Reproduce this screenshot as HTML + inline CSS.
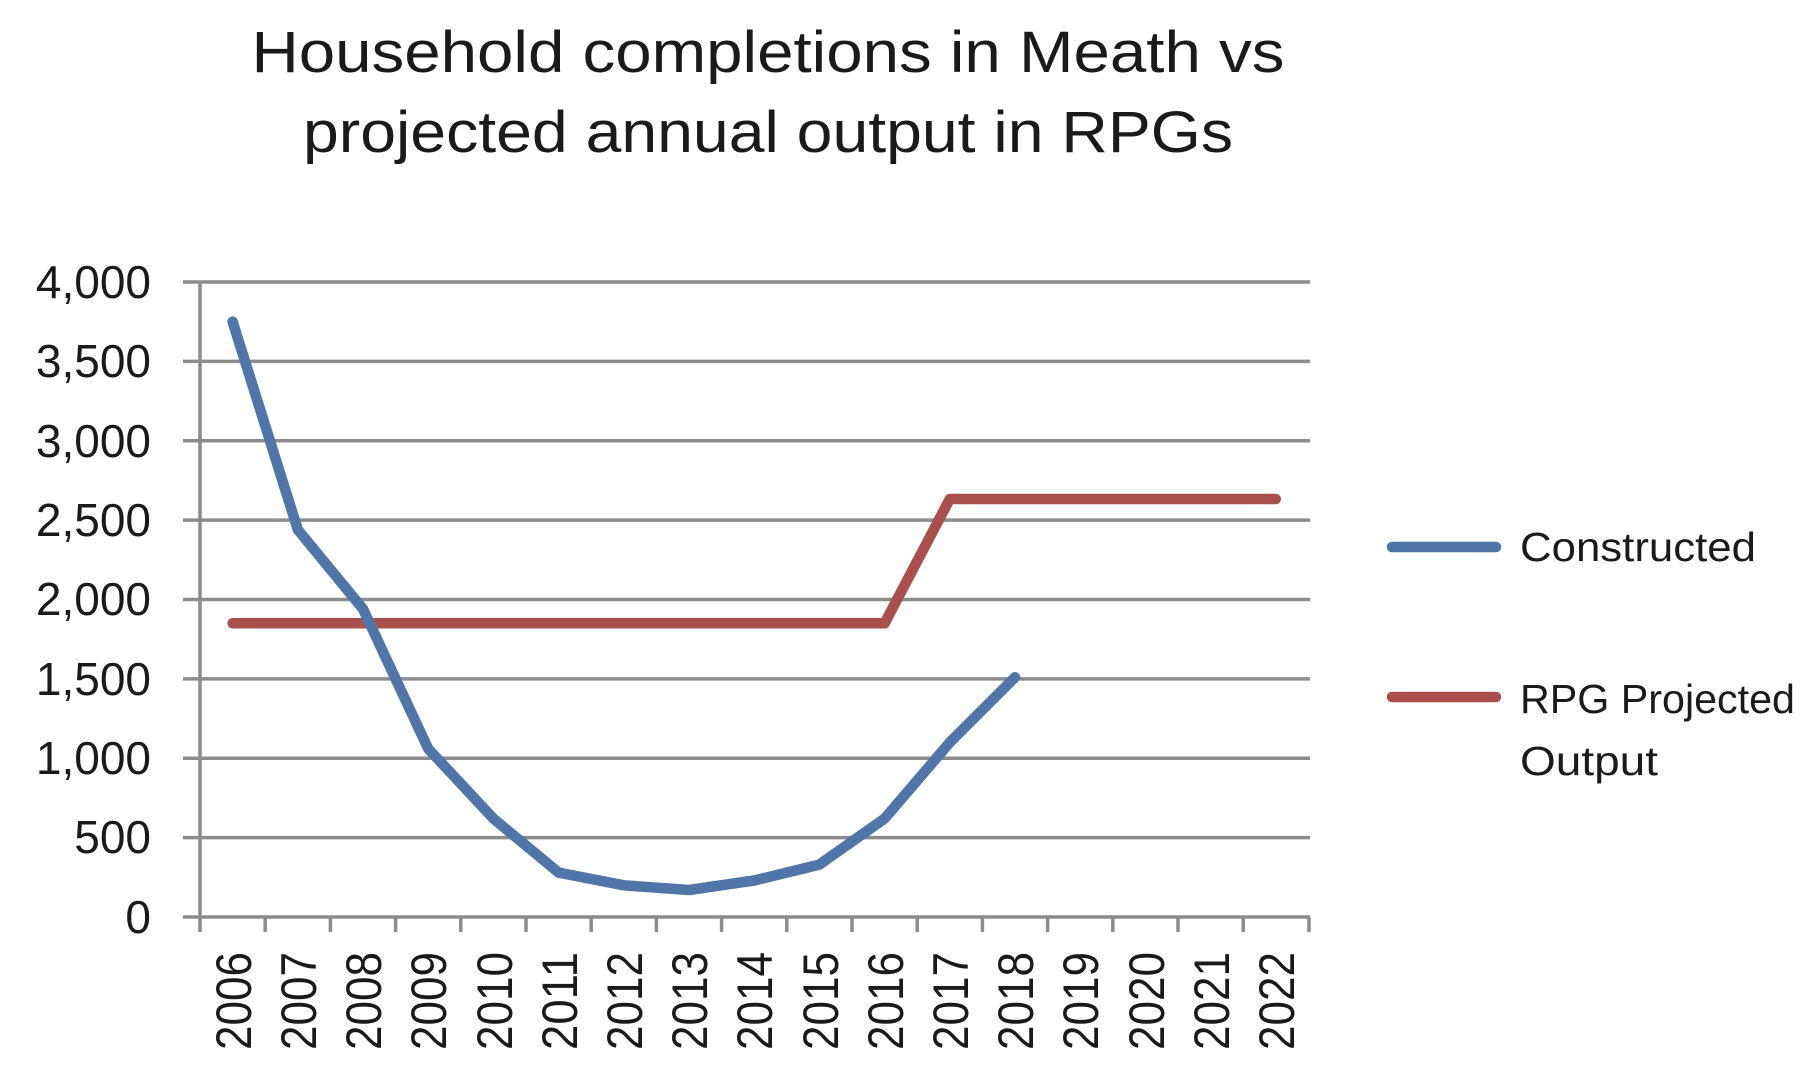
<!DOCTYPE html>
<html><head><meta charset="utf-8"><style>html,body{margin:0;padding:0;background:#fff}svg{display:block}</style></head>
<body>
<svg width="1816" height="1086" viewBox="0 0 1816 1086" xmlns="http://www.w3.org/2000/svg" font-family="'Liberation Sans', sans-serif" fill="#1a1a1a">
<rect width="1816" height="1086" fill="#fff"/>
<text x="768" y="72" font-size="58" text-anchor="middle" textLength="1033" lengthAdjust="spacingAndGlyphs">Household completions in Meath vs</text>
<text x="768" y="152" font-size="58" text-anchor="middle" textLength="930" lengthAdjust="spacingAndGlyphs">projected annual output in RPGs</text>
<g stroke="#8c8c8c" stroke-width="3.5">
<line x1="183" y1="282" x2="1310" y2="282"/>
<line x1="183" y1="361.4" x2="1310" y2="361.4"/>
<line x1="183" y1="440.8" x2="1310" y2="440.8"/>
<line x1="183" y1="520.1" x2="1310" y2="520.1"/>
<line x1="183" y1="599.5" x2="1310" y2="599.5"/>
<line x1="183" y1="678.9" x2="1310" y2="678.9"/>
<line x1="183" y1="758.3" x2="1310" y2="758.3"/>
<line x1="183" y1="837.6" x2="1310" y2="837.6"/>
<line x1="183" y1="917" x2="1310" y2="917"/>
<line x1="200" y1="282" x2="200" y2="932"/>
<line x1="265.2" y1="917" x2="265.2" y2="932"/><line x1="330.4" y1="917" x2="330.4" y2="932"/><line x1="395.6" y1="917" x2="395.6" y2="932"/><line x1="460.8" y1="917" x2="460.8" y2="932"/><line x1="526" y1="917" x2="526" y2="932"/><line x1="591.2" y1="917" x2="591.2" y2="932"/><line x1="656.4" y1="917" x2="656.4" y2="932"/><line x1="721.6" y1="917" x2="721.6" y2="932"/><line x1="786.8" y1="917" x2="786.8" y2="932"/><line x1="852" y1="917" x2="852" y2="932"/><line x1="917.2" y1="917" x2="917.2" y2="932"/><line x1="982.4" y1="917" x2="982.4" y2="932"/><line x1="1047.6" y1="917" x2="1047.6" y2="932"/><line x1="1112.8" y1="917" x2="1112.8" y2="932"/><line x1="1178" y1="917" x2="1178" y2="932"/><line x1="1243.2" y1="917" x2="1243.2" y2="932"/><line x1="1309" y1="917" x2="1309" y2="932"/>
</g>
<g font-size="46" text-anchor="end">
<text x="151" y="298">4,000</text>
<text x="151" y="377">3,500</text>
<text x="151" y="457">3,000</text>
<text x="151" y="536">2,500</text>
<text x="151" y="615">2,000</text>
<text x="151" y="695">1,500</text>
<text x="151" y="774">1,000</text>
<text x="151" y="853">500</text>
<text x="151" y="933">0</text>
</g>
<g font-size="50">
<text transform="translate(251,1050) rotate(-90)" textLength="98" lengthAdjust="spacingAndGlyphs">2006</text>
<text transform="translate(316,1050) rotate(-90)" textLength="98" lengthAdjust="spacingAndGlyphs">2007</text>
<text transform="translate(381,1050) rotate(-90)" textLength="98" lengthAdjust="spacingAndGlyphs">2008</text>
<text transform="translate(446,1050) rotate(-90)" textLength="98" lengthAdjust="spacingAndGlyphs">2009</text>
<text transform="translate(512,1050) rotate(-90)" textLength="98" lengthAdjust="spacingAndGlyphs">2010</text>
<text transform="translate(577,1050) rotate(-90)" textLength="98" lengthAdjust="spacingAndGlyphs">2011</text>
<text transform="translate(642,1050) rotate(-90)" textLength="98" lengthAdjust="spacingAndGlyphs">2012</text>
<text transform="translate(707,1050) rotate(-90)" textLength="98" lengthAdjust="spacingAndGlyphs">2013</text>
<text transform="translate(772,1050) rotate(-90)" textLength="98" lengthAdjust="spacingAndGlyphs">2014</text>
<text transform="translate(838,1050) rotate(-90)" textLength="98" lengthAdjust="spacingAndGlyphs">2015</text>
<text transform="translate(903,1050) rotate(-90)" textLength="98" lengthAdjust="spacingAndGlyphs">2016</text>
<text transform="translate(968,1050) rotate(-90)" textLength="98" lengthAdjust="spacingAndGlyphs">2017</text>
<text transform="translate(1033,1050) rotate(-90)" textLength="98" lengthAdjust="spacingAndGlyphs">2018</text>
<text transform="translate(1098,1050) rotate(-90)" textLength="98" lengthAdjust="spacingAndGlyphs">2019</text>
<text transform="translate(1164,1050) rotate(-90)" textLength="98" lengthAdjust="spacingAndGlyphs">2020</text>
<text transform="translate(1229,1050) rotate(-90)" textLength="98" lengthAdjust="spacingAndGlyphs">2021</text>
<text transform="translate(1294,1050) rotate(-90)" textLength="98" lengthAdjust="spacingAndGlyphs">2022</text>
</g>
<polyline fill="none" stroke="#A9504C" stroke-width="10.5" stroke-linecap="round" stroke-linejoin="round" points="232.6,623.3 884.6,623.3 949.8,499 1275.8,499"/>
<polyline fill="none" stroke="#5075A8" stroke-width="10.5" stroke-linecap="round" stroke-linejoin="round" points="232.6,321.7 297.8,529.7 363,609 428.2,748.7 493.4,818.6 558.6,872.6 623.8,885.3 689,890 754.2,880.5 819.4,864.6 884.6,818.6 949.8,742.4 1015,677.3"/>
<line x1="1392" y1="547" x2="1496" y2="547" stroke="#5075A8" stroke-width="10.5" stroke-linecap="round"/>
<line x1="1392" y1="697" x2="1496" y2="697" stroke="#A9504C" stroke-width="10.5" stroke-linecap="round"/>
<g font-size="41">
<text x="1520" y="561" textLength="236" lengthAdjust="spacingAndGlyphs">Constructed</text>
<text x="1520" y="713" textLength="275" lengthAdjust="spacingAndGlyphs">RPG Projected</text>
<text x="1520" y="775" textLength="138" lengthAdjust="spacingAndGlyphs">Output</text>
</g>
</svg>
</body></html>
